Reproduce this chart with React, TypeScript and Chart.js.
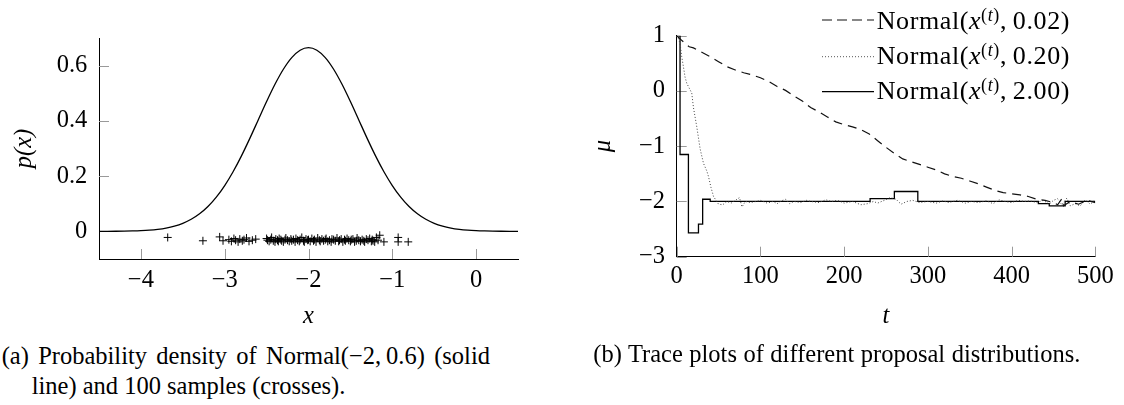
import React, { useEffect, useRef } from "react";
import { Chart, registerables } from "chart.js";

Chart.register(...registerables);

const FONT = '"Liberation Serif", "Times New Roman", serif';
const TICK_SIZE = 24.5;

// ---------- Panel (a): density of Normal(-2, 0.6) and 100 samples ----------
const PDF_X = [
  -4.5, -4.4, -4.3, -4.2, -4.1, -4.0, -3.9, -3.8, -3.7, -3.6, -3.5, -3.4, -3.3,
  -3.2, -3.1, -3.0, -2.9, -2.8, -2.7, -2.6, -2.5, -2.4, -2.3, -2.2, -2.1, -2.0,
  -1.9, -1.8, -1.7, -1.6, -1.5, -1.4, -1.3, -1.2, -1.1, -1.0, -0.9, -0.8, -0.7,
  -0.6, -0.5, -0.4, -0.3, -0.2, -0.1, 0.0, 0.1, 0.2, 0.3, 0.4, 0.5,
];
const PDF_Y = [
  0.0001, 0.0002, 0.0004, 0.0008, 0.0015, 0.0026, 0.0044, 0.0074, 0.012, 0.019,
  0.0292, 0.0437, 0.0636, 0.09, 0.1239, 0.1659, 0.2159, 0.2734, 0.3367, 0.4033,
  0.4699, 0.5325, 0.5869, 0.6291, 0.6558, 0.6649, 0.6558, 0.6291, 0.5869, 0.5325,
  0.4699, 0.4033, 0.3367, 0.2734, 0.2159, 0.1659, 0.1239, 0.09, 0.0636, 0.0437,
  0.0292, 0.019, 0.012, 0.0074, 0.0044, 0.0026, 0.0015, 0.0008, 0.0004, 0.0002,
  0.0001,
];
const SAMPLE_X = [
  -3.68, -3.26, -3.06, -3.02,
  -2.95, -2.92, -2.89, -2.87, -2.84, -2.82, -2.79, -2.77, -2.74, -2.71, -2.67, -2.63,
  -2.5, -2.49, -2.47, -2.45, -2.44, -2.42, -2.4, -2.39, -2.37, -2.36, -2.35, -2.33,
  -2.32, -2.3, -2.28, -2.27, -2.25, -2.23, -2.21, -2.2, -2.18, -2.16, -2.15,
  -2.13, -2.11, -2.1, -2.08, -2.06, -2.05, -2.03, -2.01, -2.0, -1.98, -1.96,
  -1.94, -1.93, -1.91, -1.89, -1.87, -1.86, -1.84, -1.82, -1.8, -1.79, -1.77,
  -1.75, -1.73, -1.72, -1.7, -1.68, -1.66, -1.64, -1.63, -1.61, -1.59, -1.57,
  -1.56, -1.54, -1.52, -1.5, -1.49, -1.47, -1.45, -1.43, -1.42, -1.4, -1.38,
  -1.36, -1.34, -1.33, -1.31, -1.29, -1.27, -1.25, -1.24, -1.23, -1.21, -1.19, -1.17,
  -1.15, -1.1, -0.93, -0.93, -0.81,
];
const SAMPLE_Y = [
  -0.022, -0.034, -0.02, -0.034,
  -0.03, -0.036, -0.026, -0.032, -0.038, -0.028, -0.034, -0.03, -0.024, -0.036, -0.032, -0.028,
  -0.026, -0.032, -0.036, -0.03, -0.022, -0.034, -0.038, -0.028, -0.032, -0.036, -0.026, -0.03,
  -0.034, -0.038, -0.03, -0.024, -0.032, -0.036, -0.028, -0.034, -0.03, -0.038, -0.026,
  -0.032, -0.036, -0.03, -0.022, -0.034, -0.038, -0.028, -0.032, -0.03, -0.036, -0.026,
  -0.034, -0.03, -0.038, -0.024, -0.032, -0.036, -0.028, -0.034, -0.03, -0.026, -0.036,
  -0.032, -0.038, -0.028, -0.03, -0.034, -0.024, -0.036, -0.032, -0.028, -0.038, -0.03,
  -0.034, -0.026, -0.032, -0.036, -0.03, -0.028, -0.038, -0.034, -0.024, -0.032, -0.036,
  -0.03, -0.034, -0.038, -0.028, -0.032, -0.026, -0.036, -0.03, -0.034, -0.038, -0.022, -0.032,
  -0.014, -0.038, -0.022, -0.038, -0.038,
];
const A_X_TICKS = [-4, -3, -2, -1, 0];
const A_Y_TICKS = [0, 0.2, 0.4, 0.6];

// ---------- Panel (b): trace plots ----------
const T_002 = [
  0, 5, 10, 15, 20, 30, 40, 50, 60, 70, 80, 90, 100, 110, 120, 130, 140, 150, 160,
  170, 180, 190, 200, 210, 220, 230, 240, 250, 260, 270, 280, 290, 300, 310, 320,
  330, 340, 350, 360, 370, 380, 390, 400, 410, 420, 430, 440, 450, 455, 460, 462,
  470, 480, 490, 500,
];
const MU_002 = [
  1.0, 0.93, 0.86, 0.8, 0.78, 0.7, 0.62, 0.53, 0.44, 0.38, 0.33, 0.29, 0.24, 0.17,
  0.08, 0.01, -0.09, -0.18, -0.3, -0.38, -0.47, -0.56, -0.61, -0.65, -0.7, -0.78,
  -0.9, -1.02, -1.13, -1.23, -1.28, -1.33, -1.38, -1.43, -1.5, -1.55, -1.58, -1.63,
  -1.68, -1.74, -1.8, -1.84, -1.86, -1.88, -1.91, -1.96, -1.98, -2.02, -2.06, -1.95,
  -2.08, -2.0, -2.05, -1.98, -2.02,
];
const T_020 = [
  0, 2, 4, 6, 8, 10, 12, 15, 18, 20, 24, 28, 32, 36, 38, 41, 44, 47, 50, 55, 60,
  65, 70, 75, 78, 82, 88, 95, 100, 108, 115, 120, 125, 130, 135, 140, 148, 155,
  160, 170, 178, 185, 192, 200, 210, 220, 228, 235, 240, 248, 255, 262, 268, 275,
  282, 290, 300, 310, 318, 325, 335, 345, 352, 360, 370, 378, 385, 392, 400, 408,
  415, 422, 430, 438, 445, 450, 455, 460, 466, 470, 476, 482, 488, 494, 500,
];
const MU_020 = [
  1.0, 0.95, 0.86, 0.62, 0.44, 0.25, 0.14, 0.05, -0.04, -0.3, -0.65, -1.05, -1.31,
  -1.45, -1.55, -1.75, -1.91, -1.98, -2.05, -2.06, -2.0, -2.03, -1.98, -1.93, -2.1,
  -2.0, -2.02, -2.0, -1.98, -2.03, -2.0, -2.04, -1.99, -1.96, -2.04, -2.0, -2.02,
  -1.98, -2.0, -2.02, -1.97, -2.0, -1.98, -2.03, -2.0, -2.06, -2.04, -2.0, -2.03,
  -1.98, -1.93, -1.96, -2.05, -2.0, -1.98, -2.02, -2.0, -2.03, -1.99, -2.02, -1.98,
  -2.03, -2.0, -2.02, -1.99, -2.04, -1.97, -2.0, -2.02, -1.98, -2.0, -1.99, -2.02,
  -1.98, -2.05, -1.98, -1.95, -2.06, -1.94, -2.08, -2.04, -2.08, -1.97, -2.05, -1.97,
];
const T_200 = [0, 4, 14, 26, 31, 40, 231, 260, 288, 432, 445, 464, 500];
const MU_200 = [1.0, -1.15, -2.57, -2.41, -1.96, -2.0, -1.95, -1.82, -2.0, -2.04, -2.08, -2.0, -2.0];
const B_X_TICKS = [0, 100, 200, 300, 400, 500];
const B_Y_TICKS = [-3, -2, -1, 0, 1];

const LEGEND_LABELS = ["0.02", "0.20", "2.00"];

const fmt = (v: number) => {
  const s = Number.isInteger(v) ? String(v) : v.toFixed(1);
  return s.replace("-", "\u2212");
};

const toXY = (xs: number[], ys: number[]) => xs.map((x, i) => ({ x, y: ys[i] }));

const inwardTicks = {
  id: "inwardTicks",
  beforeDatasetsDraw(chart: any) {
    const { ctx, chartArea, scales } = chart;
    ctx.save();
    ctx.strokeStyle = "#9a9a9a";
    ctx.lineWidth = 1;
    scales.x.ticks.forEach((t: any) => {
      const px = Math.round(scales.x.getPixelForValue(t.value)) + 0.5;
      ctx.beginPath();
      ctx.moveTo(px, chartArea.bottom);
      ctx.lineTo(px, chartArea.bottom - 10);
      ctx.stroke();
    });
    scales.y.ticks.forEach((t: any) => {
      const py = Math.round(scales.y.getPixelForValue(t.value)) + 0.5;
      ctx.beginPath();
      ctx.moveTo(chartArea.left, py);
      ctx.lineTo(chartArea.left + 10, py);
      ctx.stroke();
    });
    ctx.restore();
  },
};

function axis(
  min: number,
  max: number,
  ticks: number[],
  title: string,
  size: number,
  tickPad: number,
  titlePad: any,
  horizontal: boolean
) {
  return {
    type: "linear",
    min,
    max,
    afterBuildTicks: (s: any) => {
      s.ticks = ticks.map((v) => ({ value: v }));
    },
    afterFit: (s: any) => {
      if (horizontal) s.height = size;
      else s.width = size;
    },
    grid: { display: false, drawTicks: false },
    border: { display: true, color: "#000", width: 1 },
    ticks: {
      padding: tickPad,
      color: "#000",
      font: { family: FONT, size: TICK_SIZE },
      callback: (v: number) => fmt(v),
      maxRotation: 0,
      autoSkip: false,
    },
    title: {
      display: true,
      text: title,
      color: "#000",
      padding: titlePad,
      font: { family: FONT, size: TICK_SIZE, style: "italic" },
    },
  };
}

function LeftChart() {
  const ref = useRef<HTMLCanvasElement>(null);
  useEffect(() => {
    const chart = new Chart(ref.current as HTMLCanvasElement, {
      type: "line",
      data: {
        datasets: [
          {
            data: toXY(PDF_X, PDF_Y),
            borderColor: "#000",
            borderWidth: 1.3,
            pointRadius: 0,
            cubicInterpolationMode: "monotone",
            fill: false,
          },
          {
            data: toXY(SAMPLE_X, SAMPLE_Y),
            showLine: false,
            pointStyle: "cross",
            pointRadius: 4,
            pointBorderWidth: 1,
            pointBorderColor: "#000",
            borderColor: "#000",
          },
        ],
      } as any,
      options: {
        animation: false,
        responsive: false,
        events: [],
        layout: { autoPadding: false, padding: { left: 0, top: 38, right: 22, bottom: 0 } },
        plugins: { legend: { display: false }, tooltip: { enabled: false } },
        scales: {
          x: axis(-4.5, 0.5, A_X_TICKS, "x", 81, 7, { top: 0, bottom: 9 }, true),
          y: axis(-0.1, 0.7, A_Y_TICKS, "p(x)", 99, 11.7, { top: 9.5, bottom: 0 }, false),
        } as any,
      },
      plugins: [inwardTicks],
    });
    return () => chart.destroy();
  }, []);
  return (
    <canvas
      ref={ref}
      width={540}
      height={340}
      style={{ position: "absolute", left: 0, top: 0, width: 540, height: 340 }}
    />
  );
}

function RightChart() {
  const ref = useRef<HTMLCanvasElement>(null);
  useEffect(() => {
    const chart = new Chart(ref.current as HTMLCanvasElement, {
      type: "line",
      data: {
        datasets: [
          {
            label: "Normal(x(t), 0.02)",
            data: toXY(T_002, MU_002),
            borderColor: "#111",
            borderWidth: 1.2,
            borderDash: [9, 6],
            pointRadius: 0,
            fill: false,
          },
          {
            label: "Normal(x(t), 0.20)",
            data: toXY(T_020, MU_020),
            borderColor: "#444",
            borderWidth: 1,
            borderDash: [1, 2],
            pointRadius: 0,
            fill: false,
          },
          {
            label: "Normal(x(t), 2.00)",
            data: toXY(T_200, MU_200),
            borderColor: "#000",
            borderWidth: 1.3,
            stepped: true,
            pointRadius: 0,
            fill: false,
          },
        ],
      } as any,
      options: {
        animation: false,
        responsive: false,
        events: [],
        layout: { autoPadding: false, padding: { left: 0, top: 35.7, right: 28.7, bottom: 0 } },
        plugins: { legend: { display: false }, tooltip: { enabled: false } },
        scales: {
          x: axis(0, 500, B_X_TICKS, "t", 83.3, 5.6, { top: 0, bottom: 9 }, true),
          y: axis(-3, 1, B_Y_TICKS, "\u03bc", 136.7, 11.7, { top: 49, bottom: 0 }, false),
        } as any,
      },
      plugins: [inwardTicks],
    });
    return () => chart.destroy();
  }, []);
  return (
    <canvas
      ref={ref}
      width={584}
      height={340}
      style={{ position: "absolute", left: 540, top: 0, width: 584, height: 340 }}
    />
  );
}

function Legend() {
  const rows = [
    { dash: "10 5", color: "#111", width: 1.2, lineY: 20, top: 5.5 },
    { dash: "1 2", color: "#555", width: 1, lineY: 56.7, top: 41.2 },
    { dash: "", color: "#000", width: 1.3, lineY: 91.7, top: 76.2 },
  ];
  return (
    <>
      <svg
        width={60}
        height={110}
        style={{ position: "absolute", left: 818, top: 0, overflow: "visible" }}
      >
        {rows.map((r, i) => (
          <line
            key={i}
            x1={4}
            x2={56}
            y1={r.lineY}
            y2={r.lineY}
            stroke={r.color}
            strokeWidth={r.width}
            strokeDasharray={r.dash || undefined}
          />
        ))}
      </svg>
      {rows.map((r, i) => (
        <div
          key={i}
          style={{
            position: "absolute",
            left: 876.7,
            top: r.top,
            fontFamily: FONT,
            fontSize: 26,
            lineHeight: "30px",
            letterSpacing: 0.6,
            whiteSpace: "nowrap",
            color: "#000",
          }}
        >
          Normal(<i>x</i>
          <sup style={{ fontSize: 18, lineHeight: 0, verticalAlign: "0.45em" }}>
            (<i>t</i>)
          </sup>
          ,&#8201;{LEGEND_LABELS[i]})
        </div>
      ))}
    </>
  );
}

export default function App() {
  const captionStyle: React.CSSProperties = {
    position: "absolute",
    fontFamily: FONT,
    fontSize: 24.5,
    lineHeight: "30px",
    color: "#000",
    textAlign: "justify",
  };
  return (
    <div
      style={{
        position: "fixed",
        left: 0,
        top: 0,
        width: 1124,
        height: 405,
        background: "#fff",
        overflow: "hidden",
      }}
    >
      <LeftChart />
      <RightChart />
      <Legend />
      <div
        style={{
          ...captionStyle,
          left: 1.7,
          top: 340.7,
          width: 458.3,
          paddingLeft: 30,
          textIndent: -30,
        }}
      >
        (a) Probability density of Normal(−2,&#8201;0.6) (solid line) and 100 samples (crosses).
      </div>
      <div
        style={{
          ...captionStyle,
          left: 593.3,
          top: 339,
          width: 487,
          textAlignLast: "justify",
        }}
      >
        (b) Trace plots of different proposal distributions.
      </div>
    </div>
  );
}
